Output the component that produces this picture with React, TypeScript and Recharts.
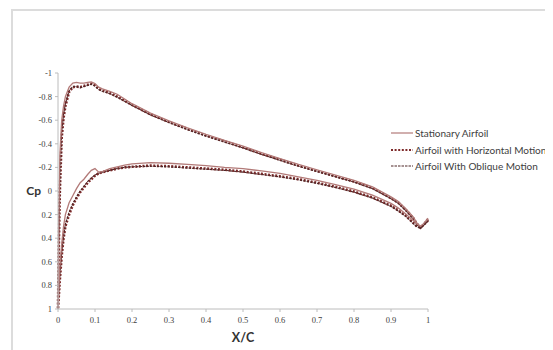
import React from 'react';
import { LineChart, Line, XAxis, YAxis, Legend } from 'recharts';

// chordwise stations (x/c)
const xGrid = [
  0, 0.002, 0.005, 0.01, 0.015, 0.02, 0.03, 0.04, 0.05, 0.06, 0.07, 0.08, 0.09, 0.1, 0.11, 0.12,
  0.14, 0.16, 0.18, 0.2, 0.25, 0.3, 0.35, 0.4, 0.45, 0.5, 0.55, 0.6, 0.65, 0.7, 0.75, 0.8, 0.85, 0.9,
  0.92, 0.94, 0.96, 0.97, 0.98, 0.99, 1,
];

const stationaryUpper = [
  1.0, 0.3, -0.3, -0.6, -0.72, -0.8, -0.88, -0.915, -0.92, -0.915, -0.915, -0.92, -0.925, -0.91, -0.88, -0.865,
  -0.845, -0.82, -0.78, -0.74, -0.66, -0.595, -0.535, -0.48, -0.43, -0.38, -0.325, -0.275, -0.225, -0.18, -0.135, -0.09, -0.035, 0.05,
  0.09, 0.15, 0.22, 0.27, 0.3, 0.27, 0.23,
];
const stationaryLower = [
  1.0, 0.85, 0.64, 0.45, 0.3, 0.2, 0.1, 0.04, -0.02, -0.07, -0.1, -0.14, -0.175, -0.19, -0.16, -0.165,
  -0.19, -0.205, -0.22, -0.23, -0.24, -0.235, -0.225, -0.215, -0.2, -0.19, -0.17, -0.15, -0.12, -0.09, -0.055, -0.015, 0.035, 0.105,
  0.145, 0.195, 0.25, 0.28, 0.3, 0.27, 0.24,
];
const horizontalUpper = [
  1.0, 0.5, 0.0, -0.45, -0.62, -0.72, -0.84, -0.88, -0.885, -0.88, -0.89, -0.9, -0.91, -0.895, -0.865, -0.85,
  -0.83, -0.8, -0.765, -0.73, -0.65, -0.585, -0.525, -0.47, -0.42, -0.37, -0.315, -0.265, -0.215, -0.17, -0.125, -0.08, -0.025, 0.06,
  0.1, 0.16, 0.23, 0.28, 0.31, 0.28, 0.24,
];
const horizontalLower = [
  1.0, 0.9, 0.75, 0.55, 0.4, 0.3, 0.2, 0.12, 0.06, 0.01, -0.03, -0.07, -0.1, -0.13, -0.15, -0.16,
  -0.175, -0.19, -0.2, -0.205, -0.215, -0.21, -0.2, -0.19, -0.18, -0.165, -0.145, -0.125, -0.1, -0.07, -0.035, 0.005, 0.055, 0.125,
  0.165, 0.21, 0.27, 0.3, 0.31, 0.28, 0.25,
];
const obliqueUpper = [
  1.0, 0.45, -0.05, -0.5, -0.65, -0.74, -0.85, -0.885, -0.885, -0.875, -0.885, -0.895, -0.905, -0.89, -0.86, -0.845,
  -0.825, -0.795, -0.76, -0.725, -0.645, -0.58, -0.52, -0.465, -0.415, -0.365, -0.31, -0.26, -0.21, -0.165, -0.12, -0.075, -0.02, 0.065,
  0.105, 0.165, 0.235, 0.285, 0.315, 0.285, 0.245,
];
const obliqueLower = [
  1.0, 0.88, 0.72, 0.52, 0.38, 0.28, 0.18, 0.11, 0.05, 0.0, -0.04, -0.08, -0.11, -0.135, -0.15, -0.16,
  -0.175, -0.19, -0.2, -0.205, -0.21, -0.205, -0.195, -0.185, -0.175, -0.16, -0.14, -0.12, -0.095, -0.065, -0.03, 0.01, 0.06, 0.13,
  0.17, 0.215, 0.275, 0.305, 0.315, 0.285, 0.255,
];

const xTicks = [0, 0.1, 0.2, 0.3, 0.4, 0.5, 0.6, 0.7, 0.8, 0.9, 1];
const yTicks = [-1, -0.8, -0.6, -0.4, -0.2, 0, 0.2, 0.4, 0.6, 0.8, 1];

const seriesNames = ['Stationary Airfoil', 'Airfoil with Horizontal Motion', 'Airfoil With Oblique Motion'];

// closed loop: upper surface from trailing edge to leading edge, then lower surface back
const buildLoop = (upper: number[], lower: number[]) => [
  ...xGrid.map((x, i) => ({ x, cp: upper[i] })).reverse(),
  ...xGrid.slice(1).map((x, i) => ({ x, cp: lower[i + 1] })),
];

const stationaryData = buildLoop(stationaryUpper, stationaryLower);
const horizontalData = buildLoop(horizontalUpper, horizontalLower);
const obliqueData = buildLoop(obliqueUpper, obliqueLower);

const styles = [
  { color: '#b27a78', width: 1.3, dash: undefined as string | undefined },
  { color: '#7e2a2a', width: 2.6, dash: '2 1.6' },
  { color: '#4e2626', width: 1.1, dash: '2.5 1' },
];

const fmt = (v: number) => String(v);

const LegendContent = () => (
  <div style={{ fontFamily: 'Lato, sans-serif', fontSize: 10, color: '#404040', whiteSpace: 'nowrap' }}>
    {seriesNames.map((n, i) => (
      <div key={n} style={{ display: 'flex', alignItems: 'center', height: 16.5 }}>
        <svg width={22} height={6} style={{ marginRight: 2 }}>
          <line
            x1={0}
            y1={3}
            x2={22}
            y2={3}
            stroke={styles[i].color}
            strokeWidth={i === 1 ? 2 : 1.2}
            strokeDasharray={styles[i].dash}
          />
        </svg>
        <span>{n}</span>
      </div>
    ))}
  </div>
);

const tickStyle = { fontFamily: 'Liberation Serif, serif', fontSize: 8.5, fill: '#404040' };

export default function App() {
  return (
    <div style={{ position: 'relative', width: 545, height: 342, overflow: 'hidden', background: '#fff' }}>
      <div
        style={{
          position: 'absolute',
          left: 3,
          top: 1,
          width: 600,
          height: 400,
          borderTop: '2px solid #dcdcdc',
          borderLeft: '2px solid #dcdcdc',
          pointerEvents: 'none',
        }}
      />
      <LineChart width={545} height={342} margin={{ top: 65, right: 125, bottom: 21, left: 30 }}>
        <XAxis
          type="number"
          dataKey="x"
          domain={[0, 1]}
          ticks={xTicks}
          tickFormatter={fmt}
          height={20}
          stroke="#bcbcbc"
          tickSize={3}
          tickMargin={5}
          tick={tickStyle}
          label={{
            value: 'X/C',
            position: 'bottom',
            offset: 4,
            style: { fontFamily: 'Lato, sans-serif', fontSize: 12.5, fontWeight: 700, fill: '#333' },
          }}
          allowDuplicatedCategory={false}
        />
        <YAxis
          type="number"
          dataKey="cp"
          domain={[-1, 1]}
          reversed
          ticks={yTicks}
          tickFormatter={fmt}
          width={20}
          stroke="#bcbcbc"
          tickSize={3}
          tickMargin={3}
          tick={tickStyle}
          label={{
            value: 'Cp',
            position: 'left',
            offset: -3,
            style: { fontFamily: 'Lato, sans-serif', fontSize: 12, fontWeight: 700, fill: '#333', textAnchor: 'end' },
          }}
        />
        <Legend
          layout="vertical"
          align="center"
          verticalAlign="middle"
          content={<LegendContent />}
          wrapperStyle={{ left: 383, top: 117, width: 200 }}
        />
        <Line
          data={horizontalData}
          dataKey="cp"
          name={seriesNames[1]}
          stroke={styles[1].color}
          strokeWidth={styles[1].width}
          strokeDasharray={styles[1].dash}
          dot={false}
          type="linear"
          isAnimationActive={false}
        />
        <Line
          data={obliqueData}
          dataKey="cp"
          name={seriesNames[2]}
          stroke={styles[2].color}
          strokeWidth={styles[2].width}
          strokeDasharray={styles[2].dash}
          dot={false}
          type="linear"
          isAnimationActive={false}
        />
        <Line
          data={stationaryData}
          dataKey="cp"
          name={seriesNames[0]}
          stroke={styles[0].color}
          strokeWidth={styles[0].width}
          dot={false}
          type="linear"
          isAnimationActive={false}
        />
      </LineChart>
    </div>
  );
}
